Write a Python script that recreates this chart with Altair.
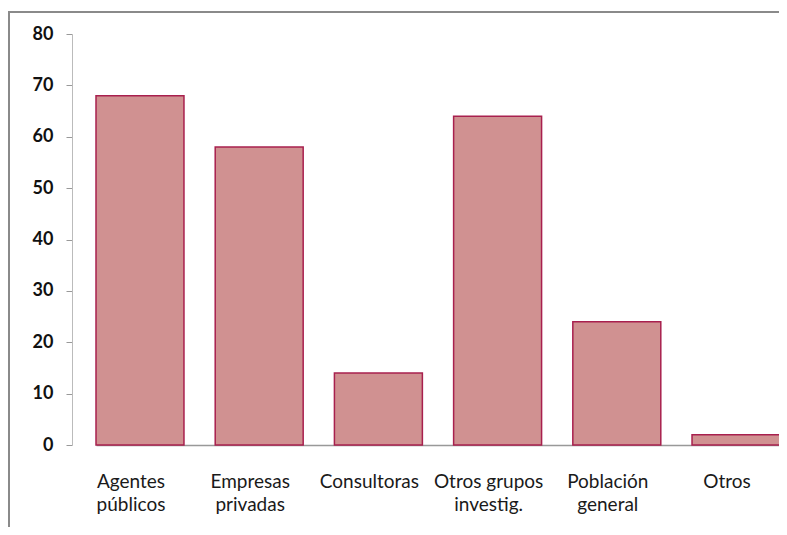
import altair as alt
import pandas as pd

categories = ["Agentes|públicos", "Empresas|privadas", "Consultoras", "Otros grupos|investig.", "Población|general", "Otros"]
values = [68, 58, 14, 64, 24, 2]
y_ticks = [0, 10, 20, 30, 40, 50, 60, 70, 80]

df = pd.DataFrame({"cat": categories, "val": values})

bars = alt.Chart(df).mark_bar(
    color="#D09191", stroke="#A8204E", strokeWidth=1.5
).encode(
    x=alt.X("cat:N", sort=categories, title=None,
            scale=alt.Scale(range=[24, 708], paddingInner=0.262, paddingOuter=0),
            axis=alt.Axis(labelExpr="split(datum.label, '|')", labelAngle=0, ticks=False,
                          domainColor="#999999", domainWidth=1.5, labelPadding=27,
                          labelOffset=-9,
                          labelFont="Lato", labelFontSize=19, labelColor="#1a1a1a",
                          labelLineHeight=23, labelBaseline="top")),
    y=alt.Y("val:Q", title=None,
            scale=alt.Scale(domain=[0, 80], nice=False),
            axis=alt.Axis(values=y_ticks, grid=False, domainColor="#bbbbbb", tickColor="#999999",
                          tickSize=6, labelPadding=13, labelFont="Lato", labelFontWeight="bold",
                          labelFontSize=18, labelColor="#111111"))
)

frame_top = alt.Chart(alt.Data(values=[{}])).mark_rule(color="#8a8a8a", strokeWidth=2).encode(
    x=alt.value(-64), x2=alt.value(800), y=alt.value(-22)
)
frame_left = alt.Chart(alt.Data(values=[{}])).mark_rule(color="#8a8a8a", strokeWidth=2).encode(
    x=alt.value(-63), y=alt.value(-22), y2=alt.value(520)
)

chart = alt.layer(bars, frame_top, frame_left).properties(
    width=707, height=411,
    autosize=alt.AutoSizeParams(type="none"),
    padding={"left": 64, "top": 26, "right": 0, "bottom": 82},
    background="white"
).configure_view(stroke=None)

chart.save("out.html", embed_options={"renderer": "svg", "actions": False})
